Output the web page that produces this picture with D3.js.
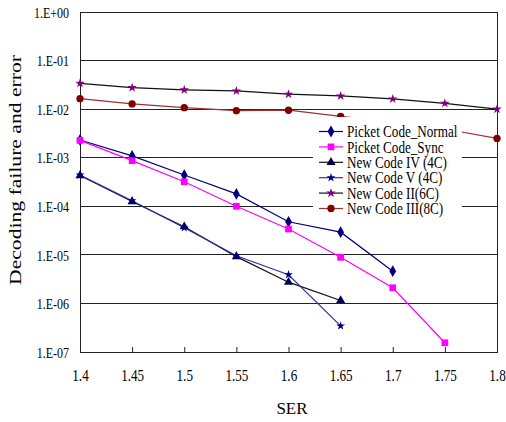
<!DOCTYPE html>
<html><head><meta charset="utf-8">
<script src="https://cdn.jsdelivr.net/npm/d3@7"></script>
<style>body{margin:0;background:#fff}svg{display:block}text{font-family:"Liberation Serif","DejaVu Serif",serif;fill:#000}</style>
</head><body><svg id="c" width="506" height="422"></svg>
<script>
const xVals = [1.4,1.45,1.5,1.55,1.6,1.65,1.7,1.75,1.8];
const xTicks = [1.4,1.45,1.5,1.55,1.6,1.65,1.7,1.75,1.8];
const xTickLabels = ["1.4","1.45","1.5","1.55","1.6","1.65","1.7","1.75","1.8"];
const yTicks = [1,1e-1,1e-2,1e-3,1e-4,1e-5,1e-6,1e-7];
const yTickLabels = ["1.E+00","1.E-01","1.E-02","1.E-03","1.E-04","1.E-05","1.E-06","1.E-07"];
const seriesNames = ["Picket Code_Normal","Picket Code_Sync","New Code IV (4C)","New Code V (4C)","New Code II(6C)","New Code III(8C)"];
const picketNormal = [2.32e-3,1.09e-3,4.4e-4,1.8e-4,4.8e-5,2.93e-5,4.6e-6];
const picketSync = [2.27e-3,8.7e-4,3.2e-4,1.0e-4,3.4e-5,8.9e-6,2.1e-6,1.55e-7];
const newCodeIV = [4.3e-4,1.25e-4,3.8e-5,9.2e-6,2.74e-6,1.15e-6];
const newCodeV = [4.4e-4,1.3e-4,3.6e-5,9.6e-6,3.9e-6,3.45e-7];
const newCodeII = [0.034,0.0277,0.025,0.0237,0.0203,0.0187,0.0162,0.0132,0.0100];
const newCodeIII = [0.0164,0.0128,0.0107,0.0093,0.0095,0.0071,0.0054,0.0039,0.0025];

const svg = d3.select("#c");
const x = d3.scaleLinear().domain([1.4,1.8]).range([80,497]);
const y = d3.scaleLog().domain([1e-7,1]).range([352,12]);

function condense(sel, f){ sel.each(function(){ const w=this.getComputedTextLength(); this.setAttribute("textLength", w*f); this.setAttribute("lengthAdjust","spacingAndGlyphs"); }); }

// gridlines
svg.append("g").selectAll("line").data(yTicks).join("line")
  .attr("x1",80).attr("x2",497).attr("y1",d=>y(d)).attr("y2",d=>y(d))
  .attr("stroke","#222").attr("stroke-width",1).attr("shape-rendering","crispEdges");
// frame
svg.append("rect").attr("x",80).attr("y",y(1)).attr("width",417).attr("height",y(1e-7)-y(1))
  .attr("fill","none").attr("stroke","#222").attr("shape-rendering","crispEdges");
// x axis ticks (inward)
const xa = d3.axisBottom(x).tickValues(xTicks).tickSizeInner(-5).tickSizeOuter(0).tickFormat((d,i)=>xTickLabels[i]);
const gx = svg.append("g").attr("transform","translate(0,352)").call(xa);
gx.select(".domain").attr("stroke","#222");
gx.selectAll(".tick line").attr("stroke","#222");
gx.selectAll(".tick text").attr("y",29).attr("dy","0").attr("font-size",16).style("font-family",'"Liberation Serif",serif');
condense(gx.selectAll(".tick text"),0.82);

// y tick labels
const ya = d3.axisLeft(y).tickValues(yTicks).tickSize(0).tickFormat((d,i)=>yTickLabels[i]);
const gy = svg.append("g").attr("transform","translate(80,0)").call(ya);
gy.select(".domain").remove();
gy.selectAll(".tick text").attr("x",-11).attr("dy","0.35em").attr("font-size",15).style("font-family",'"Liberation Serif",serif');
condense(gy.selectAll(".tick text"),0.8);

// titles
svg.append("text").attr("x",292).attr("y",414).attr("text-anchor","middle").attr("font-size",17).attr("textLength",31).text("SER");
svg.append("text").attr("transform","translate(21,170) rotate(-90)").attr("text-anchor","middle").attr("font-size",17)
  .attr("textLength",230).attr("lengthAdjust","spacingAndGlyphs").text("Decoding failure and error");

const series = [
  {name:seriesNames[4], data:newCodeII, line:"#111", mark:"#800080", sym:d3.symbolStar, size:28},
  {name:seriesNames[5], data:newCodeIII, line:"#a03030", mark:"#800000", sym:d3.symbolCircle, size:42},
  {name:seriesNames[0], data:picketNormal, line:"#000080", mark:"#000080", sym:d3.symbolDiamond, size:40},
  {name:seriesNames[1], data:picketSync, line:"#ff00ff", mark:"#ff00ff", sym:d3.symbolSquare, size:45},
  {name:seriesNames[2], data:newCodeIV, line:"#111", mark:"#000050", sym:d3.symbolTriangle, size:36},
  {name:seriesNames[3], data:newCodeV, line:"#3030a8", mark:"#000080", sym:d3.symbolStar, size:24},
];
const lineGen = d3.line().x((d,i)=>x(xVals[i])).y(d=>y(d));
series.forEach(s=>{
  svg.append("path").attr("d",lineGen(s.data)).attr("fill","none").attr("stroke",s.line).attr("stroke-width",1.2);
});
series.forEach(s=>{
  svg.append("g").selectAll("path").data(s.data).join("path")
    .attr("transform",(d,i)=>`translate(${x(xVals[i])},${y(d)})`)
    .attr("d",d3.symbol().type(s.sym).size(s.size)).attr("fill",s.mark);
});

// legend
const legOrder = [2,3,4,5,0,1];
const lg = svg.append("g");
lg.append("rect").attr("x",313).attr("y",117).attr("width",149).attr("height",100).attr("fill","#fff");
legOrder.forEach((k,i)=>{
  const s = series[k];
  const yy = 131.5 + i*15.4;
  lg.append("line").attr("x1",319).attr("x2",343).attr("y1",yy).attr("y2",yy).attr("stroke",s.line).attr("stroke-width",1.2);
  lg.append("path").attr("transform",`translate(331,${yy})`).attr("d",d3.symbol().type(s.sym).size(s.size)).attr("fill",s.mark);
  lg.append("text").attr("x",347).attr("y",yy).attr("dy","0.35em").attr("font-size",16).text(s.name);
});
condense(lg.selectAll("text"),0.82);
</script></body></html>
